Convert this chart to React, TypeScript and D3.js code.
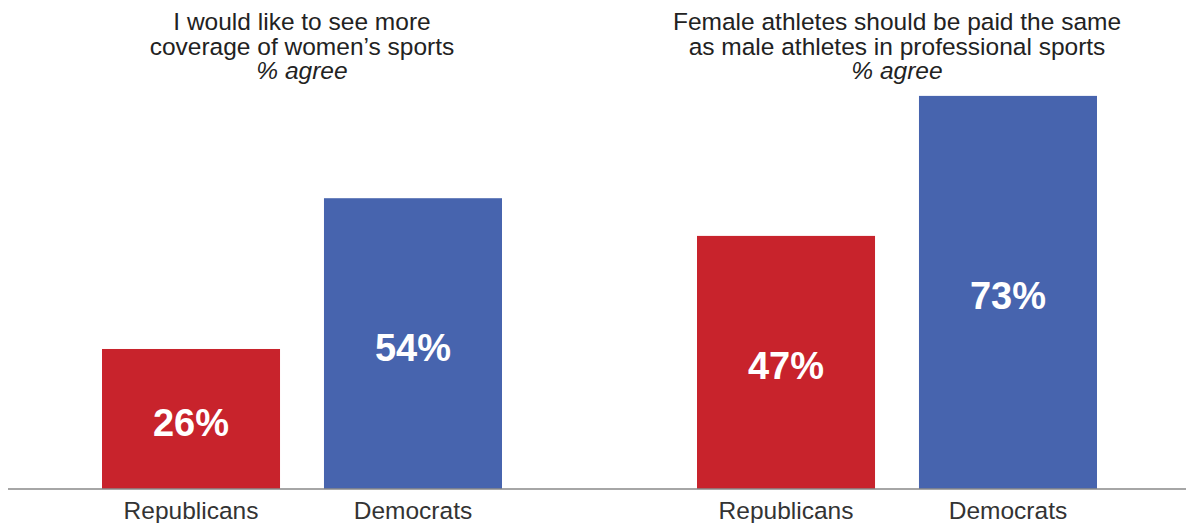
import React from "react";
import * as d3 from "d3";

const panelTitles: string[][] = [
  ["I would like to see more", "coverage of women\u2019s sports"],
  ["Female athletes should be paid the same", "as male athletes in professional sports"],
];
const subtitle = "% agree";
const categories = ["Republicans", "Democrats"];
const panelValues: number[][] = [
  [26, 54],
  [47, 73],
];
const colors = ["#C8232C", "#4764AE"];

const W = 1186;
const H = 523;
const baseY = 489;
const panelRanges: [number, number][] = [
  [102, 502],
  [697, 1097],
];

export default function App() {
  const y = d3.scaleLinear().domain([0, 100]).range([baseY, baseY - 538.5]);
  const font = "'Liberation Sans', Arial, Helvetica, sans-serif";
  return (
    <svg
      width={W}
      height={H}
      style={{ position: "absolute", left: 0, top: 0, display: "block", background: "#fff" }}
      fontFamily={font}
    >
      <rect x={0} y={0} width={W} height={H} fill="#fff" />
      {panelValues.map((vals, pi) => {
        const x = d3
          .scaleBand<string>()
          .domain(categories)
          .range(panelRanges[pi])
          .paddingInner(0.198)
          .paddingOuter(0);
        const cx = (panelRanges[pi][0] + panelRanges[pi][1]) / 2;
        return (
          <g key={pi}>
            <text textAnchor="middle" fill="#222" fontSize={24.5}>
              {panelTitles[pi].map((t, i) => (
                <tspan key={i} x={cx} y={30 + i * 24.5}>
                  {t}
                </tspan>
              ))}
              <tspan x={cx} y={79} fontStyle="italic">
                {subtitle}
              </tspan>
            </text>
            {categories.map((c, ci) => {
              const v = vals[ci];
              const bx = x(c)!;
              const bw = x.bandwidth();
              return (
                <g key={c}>
                  <rect x={bx} y={y(v)} width={bw} height={baseY - y(v)} fill={colors[ci]} />
                  <text
                    x={bx + bw / 2}
                    y={(y(v) + baseY) / 2 + 17}
                    textAnchor="middle"
                    fill="#fff"
                    fontWeight="bold"
                    fontSize={38}
                  >
                    {v}%
                  </text>
                  <text x={bx + bw / 2} y={519} textAnchor="middle" fill="#333" fontSize={24.5}>
                    {c}
                  </text>
                </g>
              );
            })}
          </g>
        );
      })}
      <line x1={8} x2={W} y1={baseY} y2={baseY} stroke="#888" strokeWidth={1.5} />
    </svg>
  );
}
